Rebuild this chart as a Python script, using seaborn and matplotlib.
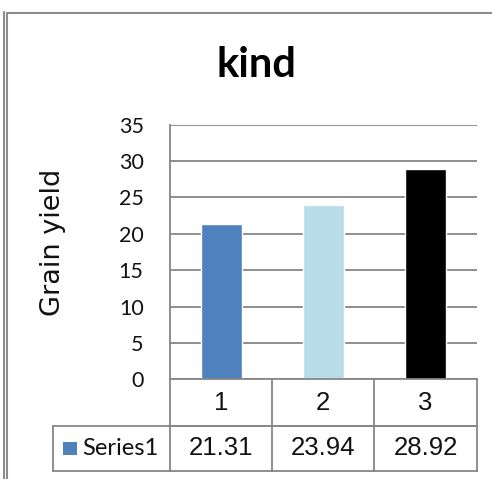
import matplotlib
matplotlib.use("Agg")
import matplotlib.pyplot as plt
from matplotlib.lines import Line2D
from matplotlib.patches import Rectangle
from matplotlib.transforms import blended_transform_factory
import seaborn as sns
import pandas as pd

# Data
categories = ["1", "2", "3"]
grain_yield = [21.31, 23.94, 28.92]
value_labels = ["21.31", "23.94", "28.92"]
series_name = "Series1"
bar_colors = ["#4F81BD", "#B7DDE8", "#000000"]
y_ticks = [0, 5, 10, 15, 20, 25, 30, 35]

sns.set_style("white")
plt.rcParams["font.family"] = ["Lato", "DejaVu Sans"]

W, H = 492, 479
fig = plt.figure(figsize=(W / 100, H / 100), dpi=100)
fig.patch.set_facecolor("white")

def fx(px):
    return px / W

def fy(py):
    return 1 - py / H

# Plot area
left, right, top, bottom = 170, 476.7, 124.7, 379.3
ax = fig.add_axes([fx(left), fy(bottom), fx(right) - fx(left), fy(top) - fy(bottom)])

df = pd.DataFrame({"kind": categories, "yield": grain_yield})
sns.barplot(data=df, x="kind", y="yield", hue="kind", palette=bar_colors,
            width=0.4, saturation=1, legend=False, ax=ax)

grid_c = "#868686"
ax.set_xlim(-0.5, 2.5)
ax.set_ylim(0, 35)
ax.set_yticks(y_ticks)
ax.set_yticklabels([str(t) for t in y_ticks], fontsize=15.5, color="#111111")
ax.tick_params(axis="y", length=0, pad=19)
ax.tick_params(axis="x", length=0, labelbottom=False)
ax.set_xlabel("")
ax.yaxis.grid(True, color=grid_c, linewidth=1.3)
ax.set_axisbelow(True)
for s in ["top", "right"]:
    ax.spines[s].set_visible(False)
for s in ["left", "bottom"]:
    ax.spines[s].set_color(grid_c)
    ax.spines[s].set_linewidth(1.3)

ax.set_ylabel("Grain yield", fontsize=19.5, family=["DejaVu Sans"], color="#111111")
ax.yaxis.set_label_coords((66 - left) / (right - left), (bottom - 242) / (bottom - top))

# Data table below the plot
tr = blended_transform_factory(ax.transData, ax.transAxes)
ph = bottom - top
cw = (right - left) / len(categories)
r1 = -(425.7 - bottom) / ph
r2 = -(470.7 - bottom) / ph
x_lab = (53 - left) / cw - 0.5
edges = [i - 0.5 for i in range(len(categories) + 1)]

def seg(xs, ys):
    ax.add_line(Line2D(xs, ys, transform=tr, color=grid_c, linewidth=1.3,
                       clip_on=False, solid_capstyle="projecting"))

seg([edges[0], edges[-1]], [r1, r1])
seg([x_lab, edges[-1]], [r1, r1])
seg([x_lab, edges[-1]], [r2, r2])
for e in edges:
    seg([e, e], [0, r2])
seg([x_lab, x_lab], [r1, r2])

tfont = dict(family=["Liberation Sans", "DejaVu Sans"], fontsize=18.5, color="#111111")
for i, c in enumerate(categories):
    ax.text(i, r1 / 2, c, transform=tr, ha="center", va="center", **tfont)
for i, v in enumerate(value_labels):
    ax.text(i, (r1 + r2) / 2, v, transform=tr, ha="center", va="center", **tfont)

# legend key + series name in the row header
kx0 = (63 - left) / cw - 0.5
kw = 14 / cw
ky0 = -(455 - bottom) / ph
ax.add_patch(Rectangle((kx0, ky0), kw, 13 / ph, transform=tr,
                       facecolor=bar_colors[0], edgecolor="none", clip_on=False))
ax.text((82 - left) / cw - 0.5, (r1 + r2) / 2, series_name, transform=tr,
        ha="left", va="center", fontsize=17, color="#111111")

# Title
fig.text(fx(256.5), fy(77), "kind", ha="center", va="baseline",
         fontsize=30, fontweight="bold", color="black")

# Chart frame
frame_c = "#8c8c8c"
fig.add_artist(Line2D([fx(3.7), fx(3.7)], [fy(12.3), fy(H + 2)], transform=fig.transFigure,
                      color=frame_c, linewidth=1.5))
fig.add_artist(Line2D([fx(7.3), fx(7.3)], [fy(13), fy(H + 2)], transform=fig.transFigure,
                      color=frame_c, linewidth=1.5))
fig.add_artist(Line2D([fx(7.3), fx(W + 2)], [fy(13), fy(13)], transform=fig.transFigure,
                      color=frame_c, linewidth=1.5))

fig.savefig("out.png", dpi=100)
